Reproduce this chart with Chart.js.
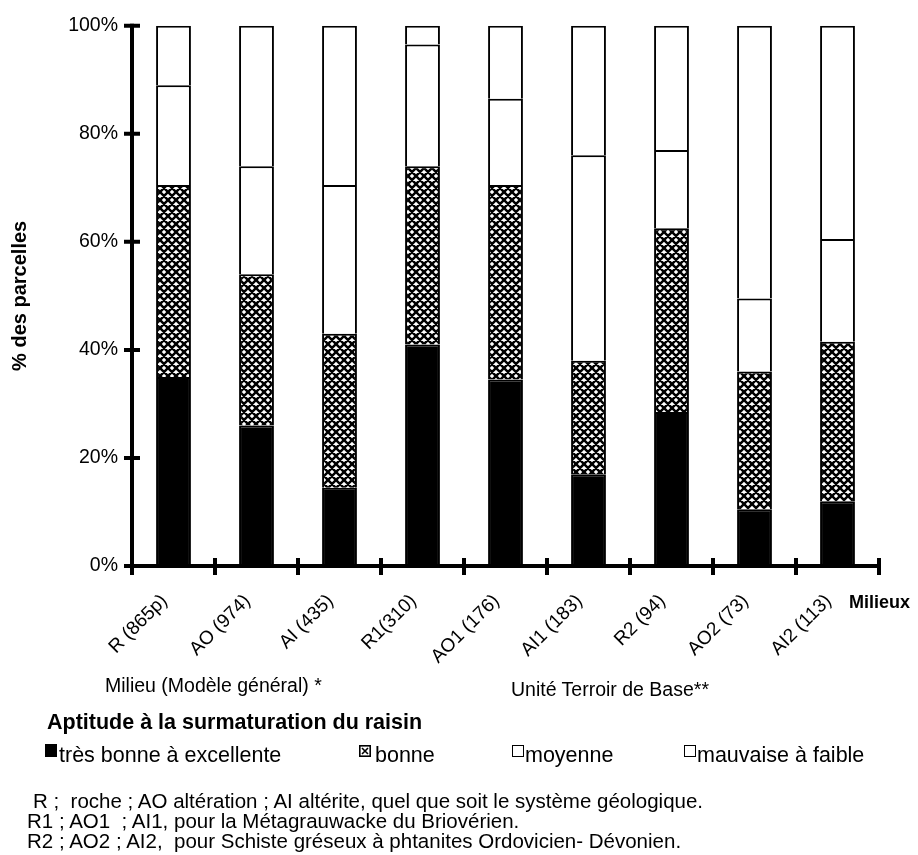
<!DOCTYPE html>
<html lang="fr">
<head>
<meta charset="utf-8">
<title>Aptitude à la surmaturation du raisin</title>
<script src="https://cdn.jsdelivr.net/npm/chart.js@4.4.1/dist/chart.umd.min.js"></script>
<style>
  html, body { margin: 0; padding: 0; background: #fff; }
  #wrap { position: relative; width: 918px; height: 855px; overflow: hidden;
          font-family: "Liberation Sans", Arial, sans-serif; color: #000; }
  #chart { position: absolute; left: 0; top: 0; }
  .t { position: absolute; white-space: pre; line-height: 1; }
  .b { font-weight: bold; }
  .key { position: absolute; box-sizing: border-box; }
</style>
</head>
<body>
<div id="wrap">
  <canvas id="chart" width="918" height="855"></canvas>

  <div class="t b" style="left:849px; top:593px; font-size:18px;">Milieux</div>
  <div class="t" style="left:105px; top:676px; font-size:19.5px;">Milieu (Modèle général) *</div>
  <div class="t" style="left:511px; top:680px; font-size:19.5px;">Unité Terroir de Base**</div>

  <div class="t b" style="left:47px; top:712px; font-size:21.5px;">Aptitude à la surmaturation du raisin</div>

  <div class="key" style="left:45px; top:744px; width:12px; height:13px; background:#000;"></div>
  <div class="t" style="left:59px; top:745px; font-size:21.5px;">très bonne à excellente</div>
  <canvas class="key" id="k1" width="12" height="12" style="left:359px; top:745px;"></canvas>
  <div class="t" style="left:375px; top:745px; font-size:21.5px;">bonne</div>
  <div class="key" style="left:512px; top:745px; width:12px; height:12px; border:1.6px solid #000;"></div>
  <div class="t" style="left:525px; top:745px; font-size:21.5px;">moyenne</div>
  <div class="key" style="left:684px; top:745px; width:12px; height:12px; border:1.6px solid #000;"></div>
  <div class="t" style="left:697px; top:745px; font-size:21.5px;">mauvaise à faible</div>

  <div class="t" style="left:33px; top:791px; font-size:20.5px;">R ;  roche ; AO altération ; AI altérite, quel que soit le système géologique.</div>
  <div class="t" style="left:27px; top:811px; font-size:20.5px;">R1 ; AO1  ; AI1, pour la Métagrauwacke du Briovérien.</div>
  <div class="t" style="left:27px; top:831px; font-size:20.5px;">R2 ; AO2 ; AI2,  pour Schiste gréseux à phtanites Ordovicien- Dévonien.</div>
</div>

<script>
// Milieux (number of plots in brackets)
const categories = ['R (865p)', 'AO (974)', 'AI (435)', 'R1(310)', 'AO1 (176)', 'AI1 (183)', 'R2 (94)', 'AO2 (73)', 'AI2 (113)'];

// Share of plots (%) per ripening-aptitude class
const tresBonne = [35, 26, 14.5, 41, 34.5, 17, 28.5, 10.5, 12];
const bonne     = [35.5, 28, 28.5, 33, 36, 21, 34, 25.5, 29.5];
const moyenne   = [18.5, 20, 27.5, 22.5, 16, 38, 14.5, 13.5, 19];
const mauvaise  = [11, 26, 29.5, 3.5, 13.5, 24, 23, 50.5, 39.5];

const classNames = ['très bonne à excellente', 'bonne', 'moyenne', 'mauvaise à faible'];
const yTicks = [0, 20, 40, 60, 80, 100];

// Cross-hatch fill used for the "bonne" class
function crossHatch(ctx) {
  const c = document.createElement('canvas');
  c.width = 8; c.height = 8;
  const g = c.getContext('2d');
  g.fillStyle = '#fff';
  g.fillRect(0, 0, 8, 8);
  g.strokeStyle = '#000';
  g.lineWidth = 2.5;
  g.beginPath();
  for (const k of [-8, 0, 8]) {
    g.moveTo(k, 0); g.lineTo(k + 8, 8);
    g.moveTo(k + 8, 0); g.lineTo(k, 8);
  }
  g.stroke();
  return ctx.createPattern(c, 'repeat');
}

// Small "bonne" legend box
(function () {
  const k = document.getElementById('k1').getContext('2d');
  k.fillStyle = '#fff'; k.fillRect(0, 0, 12, 12);
  k.strokeStyle = '#000'; k.lineWidth = 1.6;
  k.strokeRect(0.8, 0.8, 10.4, 10.4);
  k.beginPath();
  k.moveTo(3, 3); k.lineTo(9, 9);
  k.moveTo(9, 3); k.lineTo(3, 9);
  k.stroke();
})();

const canvas = document.getElementById('chart');
const ctx = canvas.getContext('2d');
const hatch = crossHatch(ctx);

// Thick axes with tick marks crossing both sides
const axisMarks = {
  id: 'axisMarks',
  afterDatasetsDraw(chart) {
    const { ctx, chartArea: a, scales: { x, y } } = chart;
    ctx.save();
    ctx.strokeStyle = '#000';
    ctx.lineCap = 'butt';
    ctx.lineWidth = 4;
    ctx.beginPath();
    ctx.moveTo(a.left, y.getPixelForValue(100) - 2);
    ctx.lineTo(a.left, a.bottom + 2);
    ctx.moveTo(a.left - 2, a.bottom);
    ctx.lineTo(a.right + 2, a.bottom);
    ctx.stroke();
    ctx.beginPath();
    yTicks.forEach(v => {
      const py = y.getPixelForValue(v);
      ctx.moveTo(a.left - 8, py);
      ctx.lineTo(a.left + 8, py);
    });
    for (let i = 0; i <= categories.length; i++) {
      const px = x.getPixelForValue(i - 0.5);
      ctx.moveTo(px, a.bottom - 8);
      ctx.lineTo(px, a.bottom + 9);
    }
    ctx.stroke();
    ctx.restore();
  }
};

const series = [tresBonne, bonne, moyenne, mauvaise];
const fills = ['#000', hatch, '#fff', '#fff'];

new Chart(ctx, {
  type: 'bar',
  data: {
    labels: categories,
    datasets: series.map((d, i) => ({
      label: classNames[i],
      data: d,
      backgroundColor: fills[i],
      borderColor: '#000',
      // the segment above supplies the dividing line, so no bottom edge
      borderWidth: { top: 2, left: 2, right: 2, bottom: 0 },
      borderSkipped: false,
      barPercentage: 0.42,
      categoryPercentage: 1
    }))
  },
  options: {
    responsive: false,
    animation: false,
    layout: { padding: { top: 21, right: 39, bottom: 0, left: 0 } },
    plugins: { legend: { display: false }, tooltip: { enabled: false } },
    scales: {
      x: {
        stacked: true,
        grid: { display: false, drawTicks: false },
        border: { display: false },
        ticks: {
          autoSkip: false,
          maxRotation: 45,
          minRotation: 45,
          padding: 24,
          labelOffset: -9,
          color: '#000',
          font: { family: '"Liberation Sans", Arial, sans-serif', size: 19 }
        },
        afterFit(s) { s.height = 855 - 566; }
      },
      y: {
        stacked: true,
        min: 0,
        max: 100,
        afterBuildTicks(s) { s.ticks = yTicks.map(v => ({ value: v })); },
        grid: { display: false, drawTicks: false },
        border: { display: false },
        ticks: {
          padding: 14,
          color: '#000',
          font: { family: '"Liberation Sans", Arial, sans-serif', size: 19.5 },
          callback: v => v + '%'
        },
        title: {
          display: true,
          text: '% des parcelles',
          color: '#000',
          padding: { top: 8, bottom: 0 },
          font: { family: '"Liberation Sans", Arial, sans-serif', size: 20, weight: 'bold' }
        },
        afterFit(s) { s.width = 132; }
      }
    }
  },
  plugins: [axisMarks]
});
</script>
</body>
</html>
